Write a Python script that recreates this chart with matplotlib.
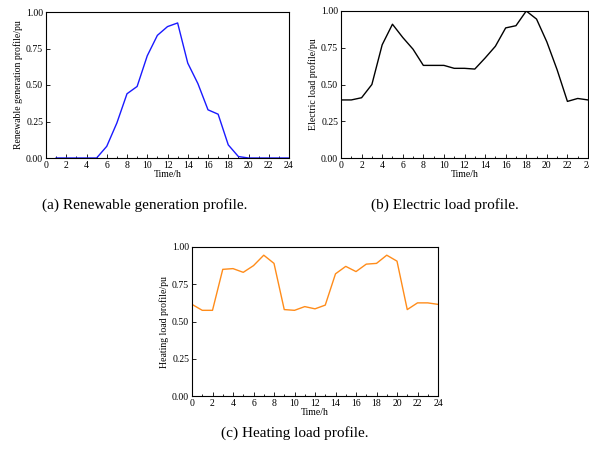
import matplotlib.pyplot as plt
import numpy as np

plt.rcParams['font.family'] = ['Liberation Serif', 'DejaVu Serif']

hours = np.arange(0, 25)
renew_hours = np.arange(1, 25)
renewable = [0, 0, 0, 0, 0, 0.08, 0.24, 0.44, 0.49, 0.70, 0.84, 0.90, 0.925,
             0.65, 0.51, 0.33, 0.30, 0.09, 0.01, 0, 0, 0, 0, 0]
electric = [0.395, 0.395, 0.41, 0.50, 0.77, 0.91, 0.82, 0.74, 0.63, 0.63, 0.63,
            0.61, 0.61, 0.605, 0.68, 0.76, 0.885, 0.90, 1.0, 0.945, 0.79, 0.60,
            0.385, 0.405, 0.395]
heating = [0.615, 0.575, 0.575, 0.85, 0.855, 0.83, 0.875, 0.945, 0.89, 0.58,
           0.575, 0.60, 0.585, 0.61, 0.82, 0.87, 0.835, 0.885, 0.89, 0.945,
           0.905, 0.58, 0.625, 0.625, 0.615]

W, H = 589, 450
fig = plt.figure(figsize=(W / 100, H / 100), dpi=100)


def make_ax(l, t, r, b):
    return fig.add_axes([l / W, 1 - b / H, (r - l) / W, (b - t) / H])


def style(ax, ylabel):
    ax.set_xlim(0, 24)
    ax.set_ylim(0, 1)
    ax.set_xticks(range(0, 25, 2))
    ax.set_xticks(range(1, 25, 2), minor=True)
    ax.set_yticks([0, 0.25, 0.5, 0.75, 1.0])
    ax.set_yticklabels(['0.00', '0.25', '0.50', '0.75', '1.00'])
    ax.tick_params(direction='in', labelsize=7, length=3, width=0.6, pad=2)
    ax.tick_params(which='minor', direction='in', length=1.5, width=0.6)
    ax.set_xlabel('Time/h', fontsize=7, labelpad=0)
    ax.set_ylabel(ylabel, fontsize=7, labelpad=2)
    for s in ax.spines.values():
        s.set_linewidth(0.8)


ax1 = make_ax(46, 12, 289, 158)
ax1.plot(renew_hours, renewable, color='#1a1aff', lw=1)
style(ax1, 'Renewable generation profile/pu')

ax2 = make_ax(341, 11, 588, 158)
ax2.plot(hours, electric, color='black', lw=1)
style(ax2, 'Electric load profile/pu')

ax3 = make_ax(192, 247, 438, 396)
ax3.plot(hours, heating, color='#ff8c1a', lw=1)
style(ax3, 'Heating load profile/pu')

fig.text(145 / W, 1 - 205 / H, '(a) Renewable generation profile.', fontsize=11,
         ha='center', va='center')
fig.text(445 / W, 1 - 205 / H, '(b) Electric load profile.', fontsize=11,
         ha='center', va='center')
fig.text(295 / W, 1 - 433 / H, '(c) Heating load profile.', fontsize=11,
         ha='center', va='center')

fig.savefig('out.png', dpi=100)
